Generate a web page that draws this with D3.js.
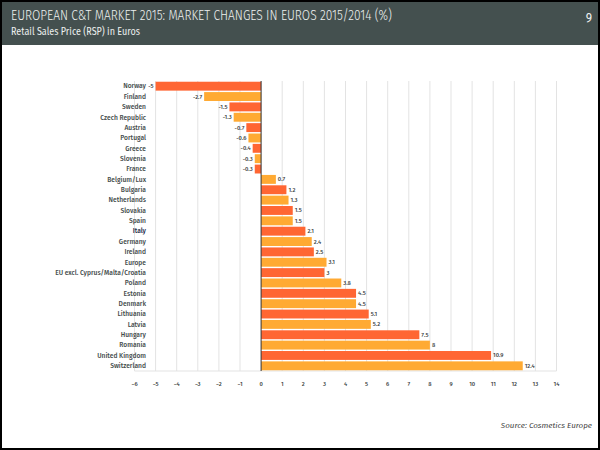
<!DOCTYPE html>
<html><head><meta charset="utf-8">
<script src="https://cdn.jsdelivr.net/npm/d3@7"></script>
<style>
html,body{margin:0;padding:0;background:#fff;}
svg{display:block;}
</style></head>
<body>
<svg id="c" width="600" height="450"></svg>
<script>
const categories = ["Norway","Finland","Sweden","Czech Republic","Austria","Portugal","Greece","Slovenia","France","Belgium/Lux","Bulgaria","Netherlands","Slovakia","Spain","Italy","Germany","Ireland","Europe","EU excl. Cyprus/Malta/Croatia","Poland","Estonia","Denmark","Lithuania","Latvia","Hungary","Romania","United Kingdom","Switzerland"];
const values = [-5,-2.7,-1.5,-1.3,-0.7,-0.6,-0.4,-0.3,-0.3,0.7,1.2,1.3,1.5,1.5,2.1,2.4,2.5,3.1,3,3.8,4.5,4.5,5.1,5.2,7.5,8,10.9,12.4];
const valueLabels = ["-5","-2.7","-1.5","-1.3","-0.7","-0.6","-0.4","-0.3","-0.3","0.7","1.2","1.3","1.5","1.5","2.1","2.4","2.5","3.1","3","3.8","4.5","4.5","5.1","5.2","7.5","8","10.9","12.4"];
const xTicks = [-6,-5,-4,-3,-2,-1,0,1,2,3,4,5,6,7,8,9,10,11,12,13,14];
const titleText = "EUROPEAN C&T MARKET 2015: MARKET CHANGES IN EUROS 2015/2014 (%)";
const subtitleText = "Retail Sales Price (RSP) in Euros";
const pageNumber = "9";
const sourceText = "Source: Cosmetics Europe";
const barColors = ["#ff6633","#ffaa33"];

const svg = d3.select("#c");
const font = "'Fira Sans','Roboto','Open Sans',sans-serif";

// background & frame
svg.append("rect").attr("x",0).attr("y",0).attr("width",600).attr("height",450).attr("fill","#fff");
svg.append("rect").attr("x",0).attr("y",0).attr("width",600).attr("height",45).attr("fill","#44504f");
svg.append("rect").attr("x",1).attr("y",1).attr("width",598).attr("height",448)
  .attr("fill","none").attr("stroke","#000").attr("stroke-width",2);

svg.append("text").attr("x",11).attr("y",20).attr("fill","#eef0ef")
  .attr("font-family",font).attr("font-size",14).attr("font-weight",300).attr("textLength",381).attr("lengthAdjust","spacingAndGlyphs")
  .text(titleText);
svg.append("text").attr("x",11).attr("y",35).attr("fill","#eef0ef")
  .attr("font-family",font).attr("font-size",10).attr("textLength",129).attr("lengthAdjust","spacingAndGlyphs")
  .text(subtitleText);
svg.append("text").attr("x",592).attr("y",22).attr("fill","#eef0ef").attr("text-anchor","end")
  .attr("font-family",font).attr("font-size",12).text(pageNumber);

const x = d3.scaleLinear().domain([-6,14]).range([134.5,556.5]);
const y = d3.scaleBand().domain(categories).range([81,371]).paddingInner(0.14).paddingOuter(0.07);

// gridlines
svg.append("g").selectAll("line").data(xTicks.filter(t=>t!==0)).join("line")
  .attr("x1",d=>x(d)).attr("x2",d=>x(d)).attr("y1",81).attr("y2",371)
  .attr("stroke","#e3e3e3").attr("stroke-width",1);
svg.append("line").attr("x1",x(-6)).attr("x2",x(14)).attr("y1",371).attr("y2",371)
  .attr("stroke","#e3e3e3").attr("stroke-width",1);

// bars
svg.append("g").selectAll("rect").data(values).join("rect")
  .attr("x",d=>x(Math.min(0,d)))
  .attr("width",d=>Math.abs(x(d)-x(0)))
  .attr("y",(d,i)=>y(categories[i]))
  .attr("height",y.bandwidth())
  .attr("fill",(d,i)=>barColors[i%2]);

// zero line
svg.append("line").attr("x1",x(0)).attr("x2",x(0)).attr("y1",81).attr("y2",371)
  .attr("stroke","#333").attr("stroke-width",1);

// value labels
svg.append("g").selectAll("text").data(values).join("text")
  .attr("x",d=>d<0 ? x(d)-2 : x(d)+2)
  .attr("y",(d,i)=>y(categories[i])+y.bandwidth()/2+2)
  .attr("text-anchor",d=>d<0?"end":"start")
  .attr("font-family",font).attr("font-size",5.8).attr("font-weight",500).attr("fill","#3a4242")
  .text((d,i)=>valueLabels[i]);

// category labels
svg.append("g").selectAll("text").data(categories).join("text")
  .attr("x",146)
  .attr("y",d=>y(d)+y.bandwidth()/2+2.3)
  .attr("text-anchor","end")
  .attr("font-family",font).attr("font-size",6.7).attr("font-weight",500)
  .attr("fill",d=>d==="Italy"?"#1d2b4a":"#444c4c")
  .text(d=>d);

// x tick labels
svg.append("g").selectAll("text").data(xTicks).join("text")
  .attr("x",d=>x(d)).attr("y",386).attr("text-anchor","middle")
  .attr("font-family",font).attr("font-size",5.8).attr("font-weight",500).attr("fill","#3a4242")
  .text(d=>d<0 ? "\u2212"+Math.abs(d) : d);

svg.append("text").attr("x",592).attr("y",428).attr("text-anchor","end")
  .attr("font-family",font).attr("font-size",8).attr("font-style","italic").attr("fill","#444")
  .text(sourceText);
</script>
</body></html>
